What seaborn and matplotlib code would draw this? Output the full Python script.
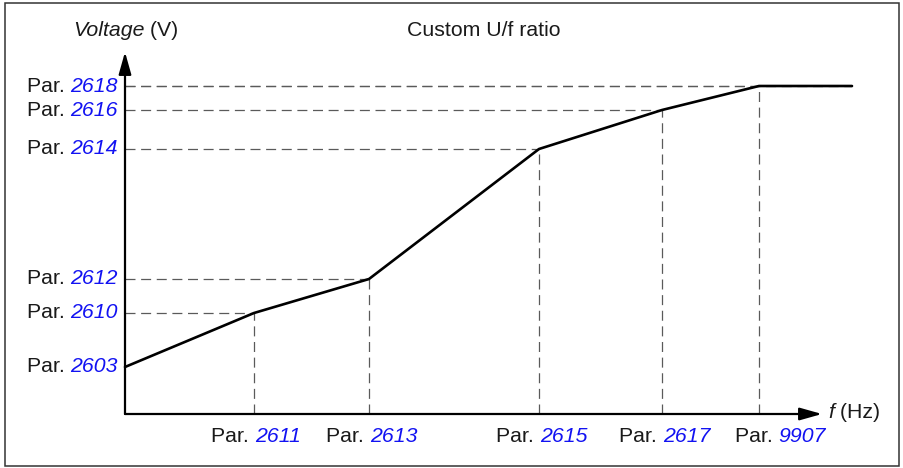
import matplotlib
matplotlib.use("Agg")
import matplotlib.pyplot as plt
from matplotlib.patches import Rectangle
import seaborn as sns
import pandas as pd

# Breakpoints of the custom U/f curve (frequency, voltage), in drawing units
freq = [0, 129, 244, 414, 537, 634, 727]
volt = [47, 101, 135, 265, 304, 328, 328]

# Parameter names for each breakpoint
volt_pars = ["2603", "2610", "2612", "2614", "2616", "2618"]
freq_pars = ["2611", "2613", "2615", "2617", "9907"]

title = "Custom U/f ratio"
BLUE = "#1212f2"
TXT = "#1a1a1a"
GREY = "#5a5a5a"

sns.set_style("white")
plt.rcParams["font.family"] = ["Liberation Sans", "DejaVu Sans"]
FS = 15.3

W, H = 904, 468
fig = plt.figure(figsize=(W / 100, H / 100), dpi=100)

# axes: origin at pixel (125, 414), one data unit per pixel
x0, y0, x1, y1 = 125, 414, 860, 40
ax = fig.add_axes([x0 / W, (H - y0) / H, (x1 - x0) / W, (y0 - y1) / H])
ax.set_xlim(0, x1 - x0)
ax.set_ylim(0, y0 - y1)
ax.axis("off")

# outer frame
fig.patches.append(Rectangle((5 / W, 2 / H), 894 / W, 463 / H,
                             transform=fig.transFigure, fill=False,
                             edgecolor="#333333", linewidth=1.1))

# guide lines from the breakpoints to the axes
dash = (0, (8, 4.5))
for xv, yv in zip(freq[:-1], volt[:-1]):
    ax.plot([0, xv], [yv, yv], color=GREY, lw=0.9, linestyle=dash, zorder=1)
for xv, yv in zip(freq[1:-1], volt[1:-1]):
    ax.plot([xv, xv], [0, yv], color=GREY, lw=0.9, linestyle=dash, zorder=1)
ax.plot([0, freq[-1]], [volt[-1], volt[-1]], color=GREY, lw=0.9, linestyle=dash, zorder=1)

# the U/f curve
df = pd.DataFrame({"f": freq, "U": volt})
sns.lineplot(data=df, x="f", y="U", ax=ax, color="black", lw=1.9,
             sort=False, zorder=3, clip_on=False)

# axis arrows
arrow = dict(arrowstyle="-|>,head_length=1.35,head_width=0.38",
             color="black", lw=1.6, shrinkA=0, shrinkB=0)
ax.annotate("", xy=(697, 0), xytext=(0, 0), xycoords="data", arrowprops=arrow,
            annotation_clip=False)
ax.annotate("", xy=(0, 362), xytext=(0, 0), xycoords="data", arrowprops=arrow,
            annotation_clip=False)

# voltage tick labels: "Par. " + italic blue number
for yv, p in zip(volt[:-1], volt_pars):
    t = ax.annotate(p, xy=(0, yv), xytext=(-5, 0), textcoords="offset points",
                    ha="right", va="center", color=BLUE, style="italic",
                    fontsize=FS, annotation_clip=False)
    ax.annotate("Par. ", xy=(0, 0.5), xycoords=t, ha="right", va="center",
                color=TXT, fontsize=FS, annotation_clip=False)

# frequency tick labels; the last one sits a little to the right
shifts = [0, 0, 0, 0, 13.5]
for xv, p, s in zip(freq[1:-1], freq_pars, shifts):
    t = ax.annotate(p, xy=(xv, 0), xytext=(0.5 + s, -16),
                    textcoords="offset points", ha="left", va="center",
                    color=BLUE, style="italic", fontsize=FS,
                    annotation_clip=False)
    ax.annotate("Par. ", xy=(0, 0.5), xycoords=t, ha="right", va="center",
                color=TXT, fontsize=FS, annotation_clip=False)

# axis names and title
v = fig.text(73 / W, 1 - 31 / H, "Voltage", style="italic", ha="left",
             va="center", color=TXT, fontsize=FS)
ax.annotate(" (V)", xy=(1, 0.5), xycoords=v, ha="left", va="center",
            color=TXT, fontsize=FS, annotation_clip=False)
fq = fig.text(828 / W, 1 - 412 / H, "f", style="italic", ha="left",
              va="center", color=TXT, fontsize=FS)
ax.annotate(" (Hz)", xy=(1, 0.5), xycoords=fq, ha="left", va="center",
            color=TXT, fontsize=FS, annotation_clip=False)
fig.text(484 / W, 1 - 31 / H, title, ha="center", va="center",
         color=TXT, fontsize=FS)

fig.savefig("out.png", dpi=100)
